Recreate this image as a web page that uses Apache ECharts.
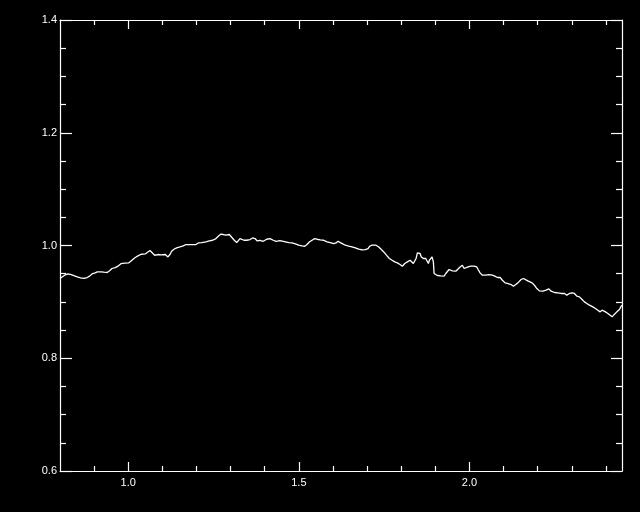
<!DOCTYPE html>
<html>
<head>
<meta charset="utf-8">
<script src="https://cdn.jsdelivr.net/npm/echarts@6/dist/echarts.min.js"></script>
<style>
html,body{margin:0;padding:0;background:#000;}
#chart{width:640px;height:512px;}
</style>
</head>
<body>
<div id="chart"></div>
<script>
// Data values
const xValues = [
  0.8000,0.8135,0.8232,0.8328,0.8428,0.8504,0.8604,0.8701,0.8797,0.8877,
  0.8956,0.9032,0.9091,0.9190,0.9287,0.9384,0.9463,0.9522,0.9618,0.9698,
  0.9794,0.9894,1.0011,1.0108,1.0205,1.0284,1.0381,1.0498,1.0577,1.0636,
  1.0694,1.0774,1.0870,1.0967,1.1084,1.1164,1.1222,1.1272,1.1339,1.1419,
  1.1515,1.1612,1.1691,1.1808,1.1984,1.2052,1.2152,1.2198,1.2278,1.2374,
  1.2474,1.2571,1.2638,1.2709,1.2785,1.2864,1.2961,1.3031,1.3107,1.3178,
  1.3225,1.3274,1.3324,1.3392,1.3471,1.3568,1.3647,1.3714,1.3782,1.3861,
  1.3958,1.4057,1.4154,1.4251,1.4330,1.4447,1.4544,1.4703,1.4799,1.4896,
  1.4996,1.5092,1.5172,1.5239,1.5307,1.5386,1.5465,1.5532,1.5629,1.5728,
  1.5825,1.5922,1.6022,1.6089,1.6148,1.6215,1.6286,1.6362,1.6462,1.6558,
  1.6655,1.6755,1.6852,1.6948,1.7027,1.7077,1.7145,1.7262,1.7341,1.7417,
  1.7488,1.7585,1.7652,1.7731,1.7810,1.7886,1.7966,1.8033,1.8104,1.8180,
  1.8259,1.8297,1.8356,1.8397,1.8435,1.8473,1.8514,1.8552,1.8590,1.8649,
  1.8719,1.8766,1.8795,1.8825,1.8866,1.8904,1.8942,1.8963,1.8983,1.9059,
  1.9159,1.9256,1.9306,1.9353,1.9402,1.9499,1.9599,1.9646,1.9725,1.9792,
  1.9842,1.9892,1.9960,2.0039,2.0136,2.0215,2.0253,2.0311,2.0379,2.0478,
  2.0575,2.0672,2.0742,2.0818,2.0898,2.0965,2.1044,2.1111,2.1153,2.1220,
  2.1288,2.1367,2.1446,2.1513,2.1581,2.1639,2.1710,2.1757,2.1836,2.1903,
  2.1974,2.2050,2.2150,2.2246,2.2326,2.2393,2.2490,2.2590,2.2686,2.2783,
  2.2853,2.2929,2.3008,2.3076,2.3146,2.3222,2.3301,2.3369,2.3439,2.3515,
  2.3615,2.3691,2.3762,2.3829,2.3888,2.3926,2.3985,2.4055,2.4123,2.4182,
  2.4249,2.4319,2.4396,2.4446,2.4470
];
const yValues = [
  0.9415,0.9473,0.9496,0.9485,0.9461,0.9443,0.9425,0.9415,0.9432,0.9461,
  0.9503,0.9514,0.9532,0.9532,0.9526,0.9521,0.9556,0.9592,0.9609,0.9633,
  0.9680,0.9686,0.9691,0.9739,0.9787,0.9815,0.9845,0.9850,0.9886,0.9911,
  0.9886,0.9827,0.9840,0.9833,0.9840,0.9797,0.9840,0.9898,0.9934,0.9957,
  0.9974,0.9992,1.0017,1.0017,1.0017,1.0045,1.0052,1.0035,1.0063,1.0081,
  1.0093,1.0123,1.0164,1.0200,1.0195,1.0182,1.0195,1.0146,1.0093,1.0052,
  1.0075,1.0123,1.0134,1.0093,1.0093,1.0106,1.0134,1.0123,1.0081,1.0093,
  1.0075,1.0111,1.0123,1.0093,1.0075,1.0088,1.0075,1.0052,1.0045,1.0028,
  1.0005,0.9992,0.9987,1.0017,1.0063,1.0093,1.0123,1.0111,1.0099,1.0093,
  1.0063,1.0052,1.0035,1.0045,1.0075,1.0052,1.0028,1.0005,0.9987,0.9974,
  0.9957,0.9934,0.9921,0.9928,0.9946,0.9987,1.0005,1.0005,0.9974,0.9928,
  0.9886,0.9815,0.9769,0.9739,0.9709,0.9691,0.9663,0.9633,0.9680,0.9709,
  0.9739,0.9769,0.9680,0.9650,0.9769,0.9868,0.9886,0.9858,0.9797,0.9769,
  0.9769,0.9739,0.9680,0.9739,0.9769,0.9797,0.9709,0.9503,0.9473,0.9468,
  0.9461,0.9456,0.9503,0.9532,0.9574,0.9549,0.9544,0.9574,0.9620,0.9650,
  0.9592,0.9574,0.9620,0.9633,0.9633,0.9620,0.9574,0.9514,0.9473,0.9473,
  0.9485,0.9473,0.9456,0.9432,0.9432,0.9384,0.9337,0.9326,0.9337,0.9308,
  0.9278,0.9313,0.9354,0.9397,0.9415,0.9384,0.9372,0.9397,0.9337,0.9296,
  0.9237,0.9195,0.9190,0.9207,0.9230,0.9190,0.9166,0.9159,0.9149,0.9149,
  0.9119,0.9149,0.9159,0.9149,0.9101,0.9089,0.9042,0.9000,0.8972,0.8942,
  0.8911,0.8883,0.8853,0.8823,0.8853,0.8865,0.8823,0.8794,0.8764,0.8734,
  0.8782,0.8823,0.8865,0.8924,0.8940
];
const xMin = 0.8, xMax = 2.447;
const yMin = 0.6, yMax = 1.4, yStep = 0.2;
const xMajorTicks = [1.0, 1.5, 2.0];
const xMinorTicks = [0.9, 1.1, 1.2, 1.3, 1.4, 1.6, 1.7, 1.8, 1.9, 2.1, 2.2, 2.3, 2.4];

const seriesData = xValues.map((x, i) => [x, yValues[i]]);
const white = '#ffffff';
const labelFont = { color: white, fontFamily: 'Liberation Sans, Arial, sans-serif', fontSize: 11 };

const gridRect = { left: 60, right: 18, top: 20, bottom: 41 };

function xAx(gridIndex, position, ticks, len, labels, showLine) {
  return {
    type: 'value', gridIndex, position, min: xMin, max: xMax,
    axisLine: { show: showLine, lineStyle: { color: white, width: 1.2 } },
    axisTick: { show: true, inside: true, length: len, customValues: ticks, lineStyle: { color: white, width: 1.2 } },
    axisLabel: labels ? Object.assign({ show: true, customValues: ticks, margin: 6,
      formatter: v => Number(v).toFixed(1) }, labelFont) : { show: false },
    splitLine: { show: false }
  };
}
function yAx(gridIndex, position, len, minorLen, labels) {
  return {
    type: 'value', gridIndex, position, min: yMin, max: yMax, interval: yStep,
    axisLine: { show: true, lineStyle: { color: white, width: 1.2 } },
    axisTick: { show: true, inside: true, length: len, lineStyle: { color: white, width: 1.2 } },
    minorTick: { show: true, splitNumber: 4, length: minorLen, lineStyle: { color: white, width: 1.2 } },
    axisLabel: labels ? Object.assign({ show: true, margin: 3,
      formatter: v => Number(v).toFixed(1) }, labelFont) : { show: false },
    splitLine: { show: false }, minorSplitLine: { show: false }
  };
}

const option = {
  backgroundColor: '#000000',
  animation: false,
  grid: [Object.assign({}, gridRect), Object.assign({}, gridRect)],
  xAxis: [
    xAx(0, 'bottom', xMajorTicks, 9, true, true),
    xAx(0, 'top', xMajorTicks, 9, false, true),
    xAx(1, 'bottom', xMinorTicks, 5, false, false),
    xAx(1, 'top', xMinorTicks, 5, false, false)
  ],
  yAxis: [
    yAx(0, 'left', 12, 6, true),
    yAx(0, 'right', 11, 6, false),
    { type: 'value', gridIndex: 1, min: yMin, max: yMax, show: false }
  ],
  series: [{
    type: 'line', xAxisIndex: 0, yAxisIndex: 0,
    data: seriesData, showSymbol: false, smooth: false,
    lineStyle: { color: white, width: 1.3 }, itemStyle: { color: white }
  }]
};

const chart = echarts.init(document.getElementById('chart'), null, { renderer: 'canvas' });
chart.setOption(option);
</script>
</body>
</html>
